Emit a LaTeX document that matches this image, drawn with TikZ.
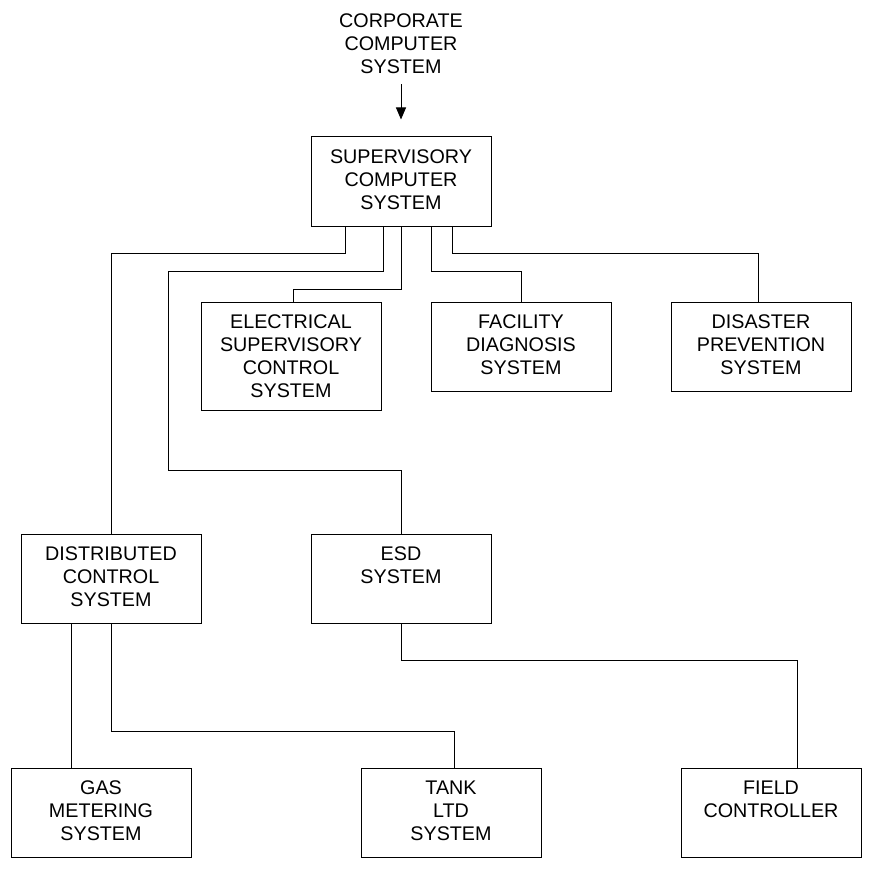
\documentclass[tikz,border=0pt]{standalone}
\usepackage{fontspec}
\setmainfont{Liberation Sans}
\usetikzlibrary{positioning,calc,arrows.meta}

\begin{document}
\begin{tikzpicture}[x=0.75pt,y=-0.75pt,
    box/.style={draw,rectangle,line width=0.75pt,minimum width=135pt,minimum height=66.75pt,inner sep=0pt},
    txt/.style={align=center,inner sep=0pt,font=\fontsize{14.8}{17.25}\selectfont},
    link/.style={line width=0.75pt}]
  \useasboundingbox (0,0) rectangle (870,870);

  % boxes
  \node[box] (sup) at (401,181.5) {};
  \node[box,minimum height=81pt] (elec) at (291,356) {};
  \node[box] (fac) at (521,347) {};
  \node[box] (dis) at (761,347) {};
  \node[box] (dcs) at (111,579) {};
  \node[box] (esd) at (401,579) {};
  \node[box] (gas) at (101,813) {};
  \node[box] (tank) at (451,813) {};
  \node[box] (field) at (771,813) {};

  % texts
  \node[txt,anchor=north] (corp) at (401,13) {CORPORATE\\COMPUTER\\SYSTEM};
  \node[txt,below=9.5pt of sup.north] (suptxt) {SUPERVISORY\\COMPUTER\\SYSTEM};
  \node[txt,below=9.5pt of elec.north] (electxt) {ELECTRICAL\\SUPERVISORY\\CONTROL\\SYSTEM};
  \node[txt,below=9.5pt of fac.north] (factxt) {FACILITY\\DIAGNOSIS\\SYSTEM};
  \node[txt,below=9.5pt of dis.north] (distxt) {DISASTER\\PREVENTION\\SYSTEM};
  \node[txt,below=9pt of dcs.north] (dcstxt) {DISTRIBUTED\\CONTROL\\SYSTEM};
  \node[txt,below=9pt of esd.north] (esdtxt) {ESD\\SYSTEM};
  \node[txt,below=9.5pt of gas.north] (gastxt) {GAS\\METERING\\SYSTEM};
  \node[txt,below=9.5pt of tank.north] (tanktxt) {TANK\\LTD\\SYSTEM};
  \node[txt,below=9.5pt of field.north] (fieldtxt) {FIELD\\CONTROLLER};

  % arrow from corporate level
  \draw[link,-{Triangle[length=9pt,width=7.5pt]},shorten <=8pt,shorten >=12.75pt] (corp) -- (sup);

  % links from supervisory computer
  \draw[link] ($(sup.south)+(-56,0)$) -- ++(0,27) -| (dcs.north);
  \draw[link] ($(sup.south)+(-18,0)$) -- ++(0,45) -| (168,470) -| (esd.north);
  \draw[link] (sup.south) -- ++(0,63) -| ($(elec.north)+(2,0)$);
  \draw[link] ($(sup.south)+(30,0)$) -- ++(0,45) -| (fac.north);
  \draw[link] ($(sup.south)+(51,0)$) -- ++(0,27) -| ($(dis.north)+(-3,0)$);

  % links to field level
  \draw[link] ($(dcs.south)+(-40,0)$) -- ($(gas.north)+(-30,0)$);
  \draw[link] (dcs.south) -- ++(0,107) -| ($(tank.north)+(3,0)$);
  \draw[link] (esd.south) -- ++(0,36) -| ($(field.north)+(26,0)$);
\end{tikzpicture}
\end{document}
